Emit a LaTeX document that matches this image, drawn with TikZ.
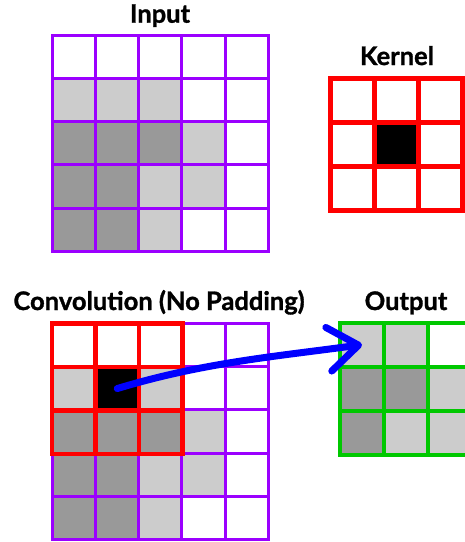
\documentclass[tikz,border=0pt]{standalone}
\usepackage{fontspec}
\setmainfont{Lato}[BoldFeatures={FakeBold=1.2}]
\usetikzlibrary{arrows.meta}

\definecolor{gridpurple}{RGB}{155,0,255}
\definecolor{kernelred}{RGB}{255,0,0}
\definecolor{outgreen}{RGB}{0,200,0}
\definecolor{lightcell}{RGB}{204,204,204}
\definecolor{darkcell}{RGB}{153,153,153}

\tikzset{
  title/.style={anchor=base,font=\fontsize{25.5}{30}\selectfont\bfseries},
  inline/.style={draw=gridpurple,line width=3pt,line cap=rect},
  kerline/.style={draw=kernelred,line width=4.5pt,line cap=rect},
  outline/.style={draw=outgreen,line width=4pt,line cap=rect},
}

\begin{document}
\begin{tikzpicture}[x=1pt,y=-1pt]
        \clip (0,0) rectangle (465,542);
        \fill[white] (0,0) rectangle (465,542);

        % popisky
        \node[title] (inputlabel) at (160,22.7) {Input};
        \node[title] (kernellabel) at (397,65) {Kernel};
        \node[title] (convlabel) at (159,310) {Convolution (No Padding)};
        \node[title] (outputlabel) at (406,310) {Output};

        % vstup a konvoluce (stejny vzor)
        \foreach \y in {35,323.3} {
          \foreach \r/\c/\f in {1/0/lightcell,1/1/lightcell,1/2/lightcell,
                                2/0/darkcell,2/1/darkcell,2/2/darkcell,2/3/lightcell,
                                3/0/darkcell,3/1/darkcell,3/2/lightcell,3/3/lightcell,
                                4/0/darkcell,4/1/darkcell,4/2/lightcell}
            \fill[\f] (52+\c*43.3,\y+\r*43.3) rectangle ++(43.3,43.3);
        }
        \fill[black] (52+43.5,323.3+43.5) rectangle ++(43.5,43.5);
        \foreach \y in {35,323.3} {
          \foreach \i in {0,...,5} {
            \draw[inline] (52+\i*43.3,\y) -- ++(0,216.5);
            \draw[inline] (52,\y+\i*43.3) -- ++(216.5,0);
          }
        }

        % jadro
        \fill[black] (330.7+44,78.3+44) rectangle ++(44,44);
        \foreach \i in {0,...,3} {
          \draw[kerline] (330.7+\i*44,78.3) -- ++(0,132);
          \draw[kerline] (330.7,78.3+\i*44) -- ++(132,0);
        }

        % jadro nad vstupem
        \foreach \i in {0,...,3} {
          \draw[kerline] (52+\i*43.5,323.3) -- ++(0,130.5);
          \draw[kerline] (52,323.3+\i*43.5) -- ++(130.5,0);
        }

        % vystup
        \foreach \r/\c/\f in {0/0/lightcell,0/1/lightcell,
                              1/0/darkcell,1/1/darkcell,1/2/lightcell,
                              2/0/darkcell,2/1/lightcell,2/2/lightcell}
          \fill[\f] (340+\c*44,322.7+\r*44) rectangle ++(44,44);
        \foreach \i in {0,...,3} {
          \draw[outline] (340+\i*44,322.7) -- ++(0,132);
          \draw[outline] (340,322.7+\i*44) -- ++(132,0);
        }

        % sipka
        \coordinate (convmid) at (52+1.5*43.5,323.3+1.5*43.5);
        \coordinate (outfirst) at (362,344.7);
        \draw[blue,line width=7pt,line cap=round,
              -{Straight Barb[length=30pt,width=44pt,round]}]
          (convmid) .. controls +(86,-26) and +(-88,12) .. (outfirst);
    \end{tikzpicture}
\end{document}
